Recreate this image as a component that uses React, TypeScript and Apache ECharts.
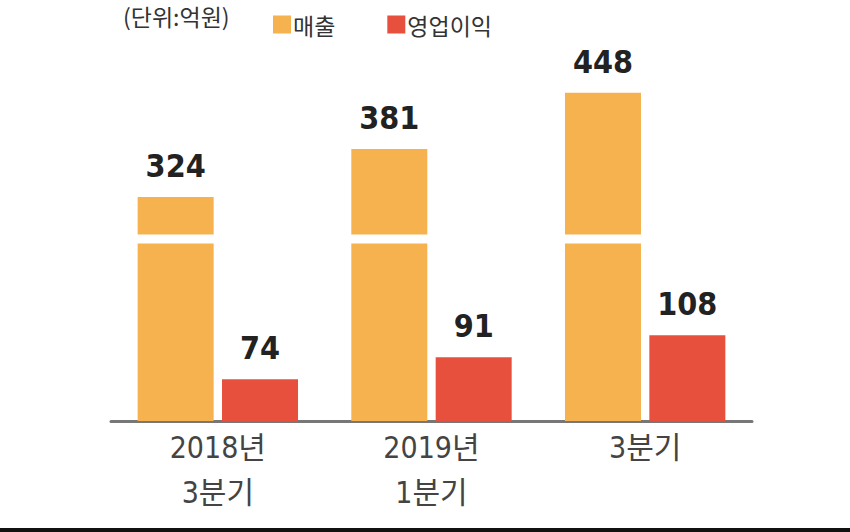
import React, { useEffect, useRef } from "react";
import * as echarts from "echarts";

const categories = ["2018년\n3분기", "2019년\n1분기", "3분기"];
const revenue = [324, 381, 448];
const operatingProfit = [74, 91, 108];
const seriesNames = ["매출", "영업이익"];
const unitText = "(단위:억원)";

const ORANGE = "#F5B24F";
const RED = "#E6503C";
const NUM_FONT = "'Liberation Sans Narrow', 'Arial Narrow', 'DejaVu Sans Condensed', 'Noto Sans CJK KR', sans-serif";
const KR_FONT = "'Noto Sans CJK KR', sans-serif";

export default function App() {
  const ref = useRef<HTMLDivElement>(null);
  useEffect(() => {
    if (!ref.current) return;
    const chart = echarts.init(ref.current, null, { renderer: "svg" });
    chart.setOption({
      animation: false,
      backgroundColor: "#ffffff",
      title: {
        text: unitText,
        left: 118,
        top: -1,
        textStyle: { fontFamily: KR_FONT, fontSize: 23, fontWeight: "normal", color: "#333" },
      },
      legend: {
        data: seriesNames,
        left: 268,
        top: 8,
        icon: "rect",
        itemWidth: 18,
        itemHeight: 18,
        itemGap: 52,
        textStyle: { fontFamily: KR_FONT, fontSize: 23, color: "#333", padding: [0, 0, 0, -3] },
      },
      grid: { left: 111, right: 98, top: 60, bottom: 111 },
      xAxis: {
        type: "category",
        data: categories,
        axisLine: { lineStyle: { color: "#777", width: 3 } },
        axisTick: { show: false },
        axisLabel: {
          fontFamily: NUM_FONT,
          fontSize: 30,
          lineHeight: 45,
          color: "#444",
          margin: 4,
        },
      },
      yAxis: [
        {
          type: "value",
          min: 0,
          max: 487,
          show: true,
          breaks: [{ start: 212, end: 280, gap: 10.7 }],
          breakArea: {
            show: true,
            expandOnClick: false,
            zigzagAmplitude: 0,
            itemStyle: { color: "#ffffff", borderColor: "#ffffff", borderWidth: 0, opacity: 1 },
          },
          axisLine: { show: false },
          axisTick: { show: false },
          axisLabel: { show: false },
          splitLine: { show: false },
        },
        {
          type: "value",
          min: 41.6,
          max: 321.4,
          show: true,
          axisLine: { show: false },
          axisTick: { show: false },
          axisLabel: { show: false },
          splitLine: { show: false },
        },
      ],
      series: [
        {
          name: seriesNames[0],
          type: "bar",
          yAxisIndex: 0,
          data: revenue,
          barWidth: 76,
          barGap: "11%",
          itemStyle: { color: ORANGE },
          label: {
            show: true,
            position: "top",
            distance: 15,
            fontFamily: NUM_FONT,
            fontWeight: "bold",
            fontSize: 32,
            color: "#222",
          },
        },
        {
          name: seriesNames[1],
          type: "bar",
          yAxisIndex: 1,
          data: operatingProfit,
          barWidth: 76,
          barGap: "11%",
          clip: true,
          itemStyle: { color: RED },
          label: {
            show: true,
            position: "top",
            distance: 15,
            fontFamily: NUM_FONT,
            fontWeight: "bold",
            fontSize: 32,
            color: "#222",
          },
        },
      ],
      graphic: [
        {
          type: "rect",
          left: 0,
          top: 528,
          shape: { width: 850, height: 4 },
          style: { fill: "#111" },
        },
      ],
    });
    return () => chart.dispose();
  }, []);
  return (
    <div
      ref={ref}
      style={{ position: "fixed", left: 0, top: 0, width: 850, height: 532 }}
    />
  );
}
